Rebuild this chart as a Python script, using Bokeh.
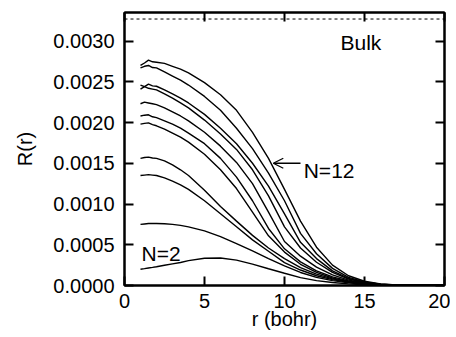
from bokeh.plotting import figure
from bokeh.models import (Range1d, FixedTicker, PrintfTickFormatter, LinearAxis, Span,
                          Label, Arrow, OpenHead, CustomJSTickFormatter)
from bokeh.embed import file_html
from bokeh.resources import INLINE

# ---------------- data ----------------
r = [1.0, 1.25, 1.5, 1.75, 2.0, 2.5, 3.0, 3.5, 4, 5, 6, 7, 8, 9, 10, 11, 12, 13, 14, 15, 16, 17, 18, 19, 20]
UNIT = 1e-6  # values below are in units of 1e-6

R_N2 = [200, 207, 215, 222, 230, 248, 265, 282, 305, 335, 338, 312, 262, 205, 150, 97, 60, 36, 20, 10, 5, 2, 1, 0, 0]
R_N3 = [750, 755, 760, 760, 760, 758, 750, 738, 720, 670, 600, 515, 425, 330, 240, 160, 100, 60, 32, 16, 7, 3, 1, 0, 0]
R_N4 = [1350, 1355, 1360, 1355, 1350, 1320, 1280, 1235, 1180, 1040, 880, 720, 560, 420, 280, 190, 120, 72, 39, 19, 8, 3, 1, 0, 0]
R_N5 = [1560, 1570, 1575, 1565, 1560, 1530, 1480, 1420, 1350, 1170, 970, 790, 615, 460, 330, 220, 140, 82, 44, 21, 9, 3, 1, 0, 0]
R_N6 = [1980, 1990, 1995, 1975, 1960, 1920, 1870, 1820, 1760, 1610, 1420, 1190, 900, 610, 410, 260, 160, 92, 48, 22, 9, 3, 1, 0, 0]
R_N7 = [2080, 2090, 2095, 2070, 2060, 2020, 1980, 1930, 1870, 1740, 1560, 1330, 1040, 700, 450, 290, 180, 105, 55, 26, 10, 4, 1, 0, 0]
R_N8 = [2230, 2250, 2240, 2230, 2220, 2180, 2130, 2080, 2020, 1880, 1710, 1510, 1250, 900, 540, 360, 225, 130, 66, 31, 12, 4, 1, 0, 0]
R_N9 = [2460, 2440, 2420, 2410, 2400, 2350, 2300, 2240, 2180, 2030, 1860, 1670, 1420, 1100, 720, 460, 285, 160, 80, 36, 14, 5, 2, 1, 0]
R_N10 = [2410, 2440, 2470, 2450, 2445, 2400, 2350, 2300, 2240, 2100, 1930, 1740, 1500, 1220, 880, 530, 330, 180, 88, 40, 15, 5, 2, 1, 0]
R_N11 = [2670, 2690, 2700, 2675, 2670, 2620, 2570, 2520, 2460, 2320, 2150, 1930, 1680, 1380, 1040, 640, 390, 210, 100, 45, 17, 6, 2, 1, 0]
R_N12 = [2700, 2730, 2765, 2745, 2740, 2725, 2690, 2655, 2610, 2490, 2340, 2150, 1880, 1560, 1180, 790, 470, 250, 120, 52, 20, 7, 2, 1, 0]

curves = [R_N2, R_N3, R_N4, R_N5, R_N6, R_N7, R_N8, R_N9, R_N10, R_N11, R_N12]

BULK = 0.00327
x_ticks = [0, 5, 10, 15, 20]
y_ticks = [0.0, 0.0005, 0.0010, 0.0015, 0.0020, 0.0025, 0.0030]

# ---------------- figure ----------------
FONT = "Liberation Sans"

p = figure(width=450, height=337, x_range=Range1d(0, 20), y_range=Range1d(0, 0.00335),
           output_backend="svg", toolbar_location=None,
           min_border_left=124, min_border_right=6, min_border_top=12, min_border_bottom=52)
p.xgrid.grid_line_color = None
p.ygrid.grid_line_color = None
p.outline_line_color = "black"
p.outline_line_width = 2
p.background_fill_color = "white"
p.border_fill_color = "white"

for vals in curves:
    p.line(r, [v * UNIT for v in vals], line_color="black", line_width=1.4)

p.add_layout(Span(location=BULK, dimension="width", line_color="black",
                  line_width=1, line_dash="3 3"))

def style_axis(ax):
    ax.axis_line_width = 2
    ax.axis_line_color = "black"
    ax.major_tick_in = 9
    ax.major_tick_out = 0
    ax.major_tick_line_width = 2
    ax.minor_tick_line_color = None
    ax.major_label_text_font = FONT
    ax.major_label_text_font_size = "20px"
    ax.major_label_text_color = "black"

xa = p.xaxis[0]
style_axis(xa)
xa.ticker = FixedTicker(ticks=x_ticks)
xa.major_label_standoff = 8
xa.axis_label = "r (bohr)"
xa.axis_label_text_font = FONT
xa.axis_label_text_font_size = "20px"
xa.axis_label_text_font_style = "normal"
xa.axis_label_text_color = "black"
xa.axis_label_standoff = -3

ya = p.yaxis[0]
style_axis(ya)
ya.ticker = FixedTicker(ticks=y_ticks)
ya.formatter = PrintfTickFormatter(format="%.4f")
ya.major_label_standoff = 10
ya.axis_label = "R(r)"
ya.axis_label_text_font = FONT
ya.axis_label_text_font_size = "20px"
ya.axis_label_text_font_style = "normal"
ya.axis_label_text_color = "black"
ya.axis_label_standoff = 14

top = LinearAxis(ticker=FixedTicker(ticks=x_ticks), formatter=CustomJSTickFormatter(code="return ''"))
style_axis(top)
top.major_label_standoff = 0
top.major_label_text_font_size = "0px"
p.add_layout(top, "above")

right = LinearAxis(ticker=FixedTicker(ticks=y_ticks), formatter=CustomJSTickFormatter(code="return ''"))
style_axis(right)
right.major_label_standoff = 0
right.major_label_text_font_size = "0px"
p.add_layout(right, "right")

p.add_layout(Label(x=13.5, y=0.00298, text="Bulk", text_font=FONT, text_font_size="21px",
                   text_baseline="alphabetic", text_color="black"))
p.add_layout(Label(x=11.2, y=0.00141, text="N=12", text_font=FONT, text_font_size="21px",
                   text_baseline="alphabetic", text_color="black"))
p.add_layout(Label(x=1.06, y=0.000393, text="N=2", text_font=FONT, text_font_size="21px",
                   text_baseline="alphabetic", text_color="black"))
p.add_layout(Arrow(end=OpenHead(size=10, line_width=1.3, line_color="black"),
                   x_start=11.0, y_start=0.0015, x_end=9.3, y_end=0.0015,
                   line_width=1.3, line_color="black"))

open("out.html", "w").write(file_html(p, INLINE))
